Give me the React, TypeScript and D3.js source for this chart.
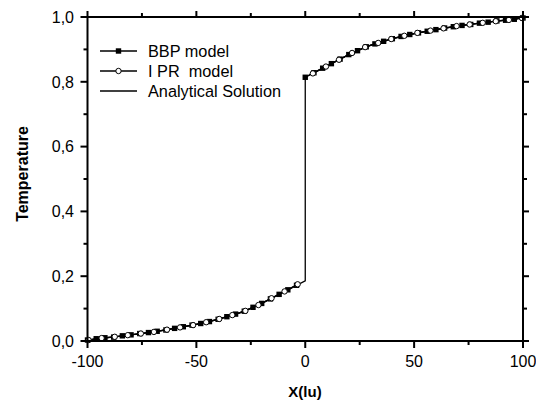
import React from "react";
import * as d3 from "d3";

const analyticX = [-100, -90, -80, -70, -60, -50, -40, -30, -20, -10, 0, 0, 10, 20, 30, 40, 50, 60, 70, 80, 90, 100];
const analyticY = [0.003, 0.011, 0.019, 0.028, 0.039, 0.051, 0.067, 0.087, 0.116, 0.151, 0.186, 0.814, 0.849, 0.884, 0.913, 0.933, 0.949, 0.961, 0.972, 0.981, 0.989, 0.997];

const bbpX = [-100, -96, -92, -88, -84, -80, -76, -72, -68, -64, -60, -56, -52, -48, -44, -40, -36, -32, -28, -24, -20, -16, -12, -8, -4,
  0, 4, 8, 12, 16, 20, 24, 28, 32, 36, 40, 44, 48, 52, 56, 60, 64, 68, 72, 76, 80, 84, 88, 92, 96, 100];
const bbpY = [0.003, 0.007, 0.010, 0.012, 0.016, 0.019, 0.023, 0.026, 0.030, 0.034, 0.039, 0.044, 0.049, 0.054, 0.060, 0.067, 0.075, 0.083, 0.092, 0.104, 0.116, 0.130, 0.144, 0.158, 0.172,
  0.814, 0.828, 0.842, 0.856, 0.870, 0.884, 0.896, 0.908, 0.917, 0.925, 0.933, 0.940, 0.946, 0.951, 0.956, 0.961, 0.966, 0.970, 0.974, 0.977, 0.981, 0.984, 0.988, 0.990, 0.993, 0.997];

const iprX = [-99.5, -93.5, -87.5, -81.5, -75.5, -69.5, -63.5, -57.5, -51.5, -45.5, -39.5, -33.5, -27.5, -21.5, -15.5, -9.5, -3.5,
  3.5, 9.5, 15.5, 21.5, 27.5, 33.5, 39.5, 45.5, 51.5, 57.5, 63.5, 69.5, 75.5, 81.5, 87.5, 93.5, 99.5];
const iprY = [0.003, 0.009, 0.013, 0.018, 0.023, 0.028, 0.035, 0.042, 0.049, 0.058, 0.068, 0.080, 0.093, 0.111, 0.132, 0.153, 0.175,
  0.826, 0.847, 0.868, 0.889, 0.907, 0.920, 0.932, 0.942, 0.951, 0.958, 0.965, 0.972, 0.977, 0.982, 0.987, 0.991, 0.997];

const xMajor = [-100, -50, 0, 50, 100];
const xMinor = [-75, -25, 25, 75];
const yMajor = [0, 0.2, 0.4, 0.6, 0.8, 1.0];
const yMinor = [0.1, 0.3, 0.5, 0.7, 0.9];
const legendLabels = ["BBP model", "I PR  model", "Analytical Solution"];

const W = 536, H = 402;
const L = 87.5, R = 523, T = 17, B = 341;
const FONT = "'Liberation Sans', Arial, sans-serif";

export default function App() {
  const x = d3.scaleLinear().domain([-100, 100]).range([L, R]);
  const y = d3.scaleLinear().domain([0, 1]).range([B, T]);
  const line = d3.line<[number, number]>().x(d => x(d[0])).y(d => y(d[1]));
  const pairs = (xs: number[], ys: number[]) => xs.map((v, i) => [v, ys[i]] as [number, number]);
  const anal = pairs(analyticX, analyticY);
  const bbp = pairs(bbpX, bbpY);
  const ipr = pairs(iprX, iprY);
  const lower = (p: [number, number][]) => p.filter(d => d[1] < 0.5);
  const upper = (p: [number, number][]) => p.filter(d => d[1] >= 0.5);
  const fmt = (v: number) => v.toFixed(1).replace(".", ",");

  const lw = 1.3;
  return (
    <svg width={W} height={H} style={{ position: "absolute", left: 0, top: 0, background: "#fff" }} fontFamily={FONT}>
      <rect x={0} y={0} width={W} height={H} fill="#fff" />
      <path d={line(anal) || ""} fill="none" stroke="#000" strokeWidth={lw} />
      <path d={line(lower(bbp)) || ""} fill="none" stroke="#000" strokeWidth={lw} />
      <path d={line(upper(bbp)) || ""} fill="none" stroke="#000" strokeWidth={lw} />
      <path d={line(lower(ipr)) || ""} fill="none" stroke="#000" strokeWidth={lw} />
      <path d={line(upper(ipr)) || ""} fill="none" stroke="#000" strokeWidth={lw} />
      {bbp.map((d, i) => (
        <rect key={"b" + i} x={x(d[0]) - 2.7} y={y(d[1]) - 2.7} width={5.4} height={5.4} fill="#000" />
      ))}
      {ipr.map((d, i) => (
        <circle key={"c" + i} cx={x(d[0])} cy={y(d[1])} r={2.7} fill="#fff" stroke="#000" strokeWidth={1} />
      ))}
      <rect x={L} y={T} width={R - L} height={B - T} fill="none" stroke="#000" strokeWidth={2} />
      {xMajor.map(v => (
        <g key={"xm" + v}>
          <line x1={x(v)} x2={x(v)} y1={B} y2={B + 7} stroke="#000" strokeWidth={2} />
          <line x1={x(v)} x2={x(v)} y1={T} y2={T - 6} stroke="#000" strokeWidth={2} />
          <text x={x(v)} y={366.5} textAnchor="middle" fontSize={16}>{v}</text>
        </g>
      ))}
      {xMinor.map(v => (
        <g key={"xn" + v}>
          <line x1={x(v)} x2={x(v)} y1={B} y2={B + 4} stroke="#000" strokeWidth={2} />
          <line x1={x(v)} x2={x(v)} y1={T} y2={T - 4} stroke="#000" strokeWidth={2} />
        </g>
      ))}
      {yMajor.map(v => (
        <g key={"ym" + v}>
          <line x1={L} x2={L - 7} y1={y(v)} y2={y(v)} stroke="#000" strokeWidth={2} />
          <line x1={R} x2={R + 6} y1={y(v)} y2={y(v)} stroke="#000" strokeWidth={2} />
          <text x={74} y={y(v) + 5.7} textAnchor="end" fontSize={16}>{fmt(v)}</text>
        </g>
      ))}
      {yMinor.map(v => (
        <g key={"yn" + v}>
          <line x1={L} x2={L - 4} y1={y(v)} y2={y(v)} stroke="#000" strokeWidth={2} />
          <line x1={R} x2={R + 4} y1={y(v)} y2={y(v)} stroke="#000" strokeWidth={2} />
        </g>
      ))}
      <text x={305} y={397} textAnchor="middle" fontSize={15} fontWeight="bold">X(lu)</text>
      <text transform="translate(27.5,174) rotate(-90)" textAnchor="middle" fontSize={16} fontWeight="bold">Temperature</text>
      {legendLabels.map((lab, i) => {
        const ly = 51 + i * 20;
        return (
          <g key={"lg" + i}>
            <line x1={100} x2={137} y1={ly} y2={ly} stroke="#000" strokeWidth={lw} />
            {i === 0 && <rect x={118.5 - 2.7} y={ly - 2.7} width={5.4} height={5.4} fill="#000" />}
            {i === 1 && <circle cx={118.5} cy={ly} r={2.7} fill="#fff" stroke="#000" strokeWidth={1} />}
            <text x={148} y={ly + 5.8} fontSize={16.3} style={{ whiteSpace: "pre" }}>{lab}</text>
          </g>
        );
      })}
    </svg>
  );
}
